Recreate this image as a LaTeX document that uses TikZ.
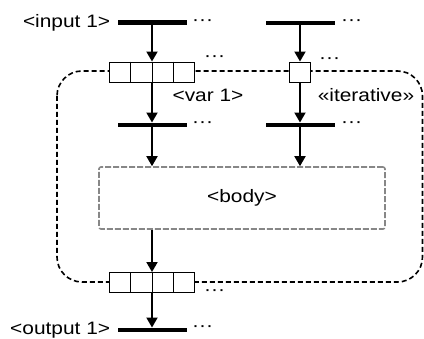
\documentclass[tikz,border=0pt]{standalone}
\usepackage{fontspec}
\setmainfont{Liberation Sans}
\usepackage{graphicx}
\usetikzlibrary{arrows.meta,calc}
\newcommand\wide[1]{\scalebox{1.16}[1]{#1}}
\begin{document}
\begin{tikzpicture}[x=1pt,y=-1pt,
  bar/.style={fill=black, inner sep=0pt, minimum width=69pt, minimum height=4.5pt},
  cellbox/.style={draw, line width=0.9pt, fill=white, inner sep=0pt, minimum height=20pt},
  divider/.style={line width=0.9pt},
  flow/.style={line width=1.8pt, -{Triangle[length=10pt,width=11pt]}},
  lbl/.style={font=\fontsize{18}{21}\selectfont, inner sep=0pt},
  dots/.style={lbl, anchor=west},
  bodybox/.style={draw=black!47, dash pattern=on 6pt off 2pt, line width=1.6pt, rounded corners=2pt, minimum width=286pt, minimum height=62pt, lbl},
  loopline/.style={line width=1.6pt, dash pattern=on 5pt off 3pt, rounded corners=25pt}]
\useasboundingbox (0,0) rectangle (424,339);
\draw[loopline] (57,71) rectangle (422.5,282);

\node[bar] (b1) at (152,22.5) {};
\node[bar] (b2) at (300,23) {};
\node[cellbox, minimum width=85pt] (v1) at (152,72) {};
\node[cellbox, minimum width=21pt] (v2) at (300,72) {};
\node[bar] (b3) at (152,125) {};
\node[bar] (b4) at (300,125) {};
\node[bodybox] (body) at (242,198) {\wide{<body>}};
\node[cellbox, minimum width=85pt] (o1) at (152,282.5) {};
\node[bar] (b5) at (152,330) {};

\foreach \b in {v1,o1}{
  \foreach \f in {0.25,0.5,0.75}
    \draw[divider] ($(\b.north west)!\f!(\b.north east)$) -- ($(\b.south west)!\f!(\b.south east)$);
}

\draw[flow] (b1) -- (v1);
\draw[flow] (b2) -- (v2);
\draw[flow] (v1) -- (b3);
\draw[flow] (v2) -- (b4);
\draw[flow] (b3) -- (b3 |- body.north);
\draw[flow] (b4) -- (b4 |- body.north);
\draw[flow] (body.south -| o1) -- (o1);
\draw[flow] (o1) -- (b5);

\node[lbl, anchor=east] (in1) at ([xshift=-7pt]b1.west) {\wide{<input 1>}};
\node[lbl, anchor=east] (out1) at ([xshift=-7pt]b5.west) {\wide{<output 1>}};
\node[lbl] (var1) at (208,95) {\wide{<var 1>}};
\node[lbl] (iter) at (366,95) {\wide{«iterative»}};

\node[dots] (d1) at (192,22.5) {\wide{···}};
\node[dots] (d2) at (341,22.5) {\wide{···}};
\node[dots] (d3) at (204,59) {\wide{···}};
\node[dots] (d4) at (319,61) {\wide{···}};
\node[dots] (d5) at (192,125) {\wide{···}};
\node[dots] (d6) at (341,125) {\wide{···}};
\node[dots] (d7) at (204,293) {\wide{···}};
\node[dots] (d8) at (192,329) {\wide{···}};
\end{tikzpicture}
\end{document}
